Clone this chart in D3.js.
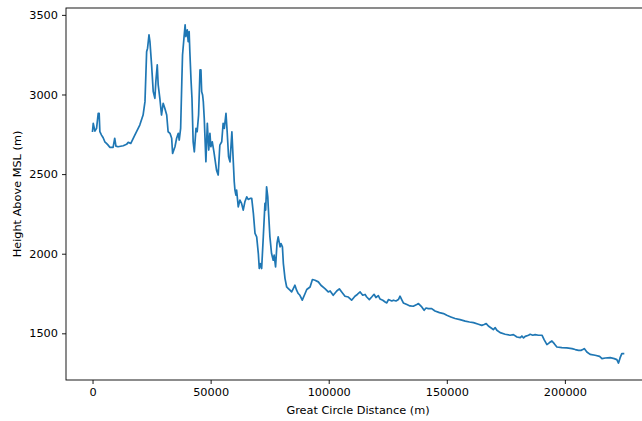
<!DOCTYPE html>
<html>
<head>
<meta charset="utf-8">
<script src="https://cdn.jsdelivr.net/npm/d3@7"></script>
<style>
  html, body { margin: 0; padding: 0; background: #fff; }
  svg { display: block; }
  text { font-family: "DejaVu Sans", sans-serif; }
</style>
</head>
<body>
<svg id="chart" width="642" height="421"></svg>
<script>
// Great circle distance (m)
const distance = [0,300,1000,1700,2400,2800,3100,3800,4500,5200,5900,6600,7300,8700,9400,9900,10800,13000,14400,15100,16200,17900,20000,21400,22200,22900,23300,23900,24300,25000,25700,26400,26800,27400,27800,28500,29200,29900,30600,31400,32000,32800,33500,33900,34900,35600,36300,36700,37300,37800,38100,38700,39200,39500,40100,40500,40900,41200,41700,42100,42600,43100,43800,44300,44900,45500,45900,46200,46600,46900,47300,48000,48600,49200,49700,50100,50700,51400,52500,53200,53900,54700,55300,55800,56500,57000,57600,58200,59000,59600,60000,60300,60700,61000,61700,62400,63100,63800,64500,65300,65900,66700,67400,68100,68800,69500,70200,70600,71000,71600,72300,73000,73300,73700,74200,74400,75100,75800,76500,76900,77500,78100,78600,79400,79800,80400,80800,81500,82200,82900,83600,84300,85000,85700,86400,87100,87800,88800,90000,90700,92100,93100,94200,95600,96700,98400,99800,100600,101900,103400,104500,105500,106900,108300,109700,111100,112100,113300,114400,115400,116100,117200,118200,119200,120000,121000,121700,122900,123900,124600,125300,126700,127400,128500,129500,130200,130900,131600,133100,134400,135800,137300,138000,139400,140400,141200,142200,143600,145000,146900,148600,150000,151700,153500,155600,157800,159600,161300,163400,164800,165800,166700,167600,169100,169700,170500,171200,172600,174700,176800,178200,179700,181100,181800,182500,183200,184600,185300,186400,187400,188800,190300,191200,192400,193500,194500,195500,196600,198700,200800,203000,204400,205800,206800,207600,208200,209300,210700,212800,214700,215700,217100,219200,220900,222000,222700,223400,224100,224800];
// Height above MSL (m)
const height = [2770,2819,2770,2787,2882,2882,2766,2745,2728,2703,2693,2682,2668,2668,2725,2676,2672,2678,2687,2699,2693,2745,2808,2871,2955,3269,3291,3374,3332,3186,3018,2976,3081,3186,3060,2976,2871,2945,2913,2871,2766,2756,2725,2630,2672,2725,2756,2714,2787,3081,3248,3353,3437,3364,3406,3332,3395,3269,3091,2976,2703,2640,2787,2766,2871,3154,3154,3018,2997,2955,2850,2577,2819,2651,2756,2672,2703,2640,2525,2494,2682,2703,2819,2787,2882,2766,2609,2577,2766,2577,2452,2399,2368,2399,2294,2337,2316,2274,2326,2357,2341,2347,2347,2253,2127,2106,2001,1907,1938,1907,2106,2316,2274,2420,2357,2294,2106,2001,1959,1991,1917,2064,2106,2043,2064,2043,1938,1844,1791,1781,1771,1760,1781,1802,1771,1750,1739,1708,1750,1775,1791,1838,1833,1823,1802,1781,1760,1766,1739,1766,1779,1760,1733,1728,1708,1733,1744,1760,1739,1744,1728,1712,1728,1745,1725,1737,1716,1708,1697,1691,1712,1703,1708,1703,1712,1733,1712,1691,1681,1672,1670,1681,1687,1666,1645,1659,1655,1655,1640,1630,1624,1613,1603,1593,1586,1577,1571,1567,1557,1550,1555,1561,1546,1530,1523,1536,1519,1504,1494,1488,1492,1477,1473,1483,1471,1481,1488,1494,1488,1492,1488,1488,1460,1429,1442,1452,1435,1414,1410,1408,1404,1398,1393,1393,1398,1404,1383,1368,1362,1355,1341,1345,1347,1341,1335,1313,1347,1372,1372];
const xTicks = [0, 50000, 100000, 150000, 200000];
const yTicks = [1500, 2000, 2500, 3000, 3500];
const xLabel = "Great Circle Distance (m)";
const yLabel = "Height Above MSL (m)";

const data = distance.map((d, i) => ({ d, h: height[i] }));

const svg = d3.select("#chart");
const mLeft = 66, mRight = 650, mTop = 8, mBottom = 380;
const fontSize = 11.3;

function padded(ext) {
  const r = ext[1] - ext[0];
  return [ext[0] - 0.05 * r, ext[1] + 0.05 * r];
}

const x = d3.scaleLinear().domain(padded(d3.extent(distance))).range([mLeft, mRight]);
const y = d3.scaleLinear().domain(padded(d3.extent(height))).range([mBottom, mTop]);

// line
svg.append("path")
  .datum(data)
  .attr("fill", "none")
  .attr("stroke", "#1f77b4")
  .attr("stroke-width", 1.7)
  .attr("stroke-linejoin", "round")
  .attr("stroke-linecap", "square")
  .attr("d", d3.line().x(p => x(p.d)).y(p => y(p.h)));

// axes
const xAxis = svg.append("g")
  .attr("transform", `translate(0,${mBottom})`)
  .call(d3.axisBottom(x).tickValues(xTicks).tickFormat(d3.format("d")).tickSize(4).tickPadding(4).tickSizeOuter(0));
const yAxis = svg.append("g")
  .attr("transform", `translate(${mLeft},0)`)
  .call(d3.axisLeft(y).tickValues(yTicks).tickFormat(d3.format("d")).tickSize(4).tickPadding(4).tickSizeOuter(0));

[xAxis, yAxis].forEach(g => {
  g.select(".domain").remove();
  g.selectAll(".tick line").attr("stroke", "#000").attr("stroke-width", 0.9);
  g.selectAll(".tick text")
    .attr("fill", "#000")
    .style("font-family", "'DejaVu Sans', sans-serif")
    .style("font-size", fontSize + "px");
});

// spines
svg.append("rect")
  .attr("x", mLeft).attr("y", mTop)
  .attr("width", mRight - mLeft).attr("height", mBottom - mTop)
  .attr("fill", "none").attr("stroke", "#000").attr("stroke-width", 0.9);

// axis labels
svg.append("text")
  .attr("x", (mLeft + mRight) / 2).attr("y", 414)
  .attr("text-anchor", "middle")
  .style("font-size", fontSize + "px")
  .attr("fill", "#000")
  .text(xLabel);

svg.append("text")
  .attr("transform", `translate(20.5,${(mTop + mBottom) / 2}) rotate(-90)`)
  .attr("text-anchor", "middle")
  .style("font-size", fontSize + "px")
  .attr("fill", "#000")
  .text(yLabel);
</script>
</body>
</html>
